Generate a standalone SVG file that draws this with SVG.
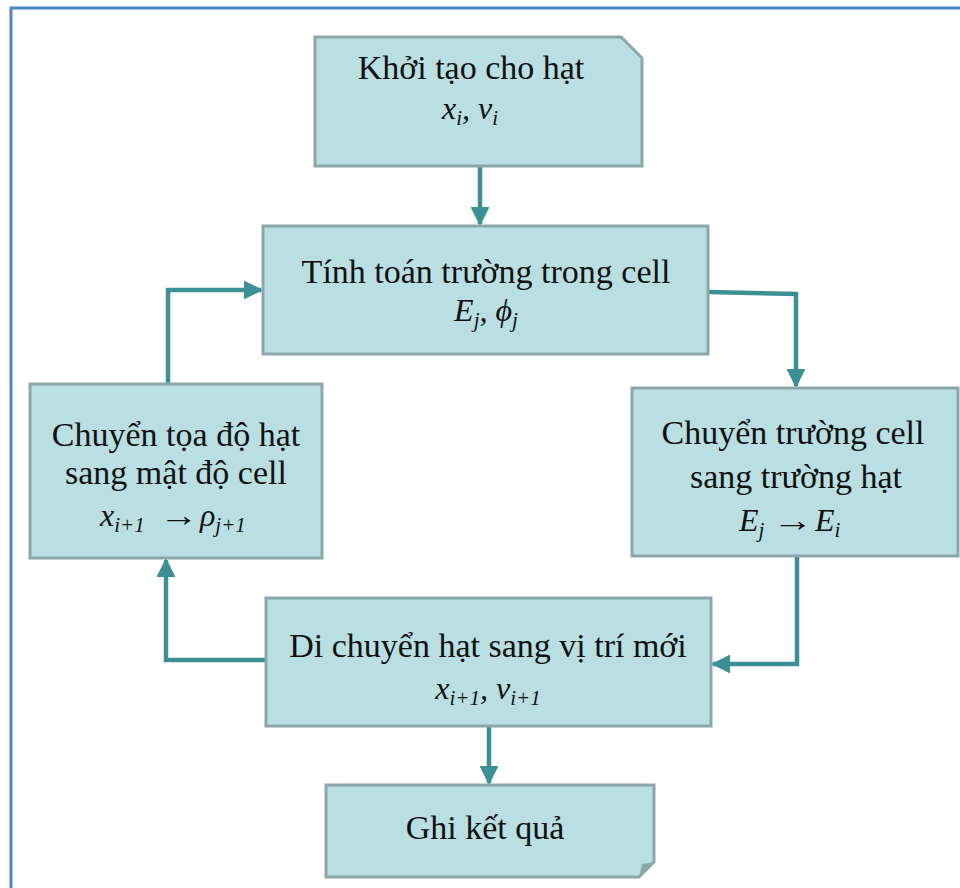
<svg xmlns="http://www.w3.org/2000/svg" width="960" height="888" viewBox="0 0 960 888">
<defs>
<style>
.box{fill:#B9DFE3;stroke:#8CA7AA;stroke-width:3}
.t{font-family:"Liberation Serif","Tinos","Times New Roman",serif;font-size:34px;fill:#111;text-anchor:middle}
.m{font-family:"Liberation Serif","Tinos","Times New Roman",serif;font-size:32px;font-style:italic;fill:#111;text-anchor:middle}
.ms{font-family:"Liberation Serif","Tinos","Times New Roman",serif;font-size:32px;font-style:italic;fill:#111}
.ar{font-family:"Liberation Serif","Tinos","Times New Roman",serif;font-size:32px;fill:#111}
.s{font-size:21px}
.c{fill:none;stroke:#3C8F94;stroke-width:4.5;marker-end:url(#ah)}
</style>
<marker id="ah" viewBox="0 0 10 10" refX="9" refY="5" markerWidth="4.2" markerHeight="4.2" orient="auto" markerUnits="strokeWidth">
<path d="M0,0 L10,5 L0,10 z" fill="#3C8F94"/>
</marker>
</defs>
<rect width="960" height="888" fill="#fff"/>
<path d="M11,888 V8 H960" fill="none" stroke="#4F86C6" stroke-width="3"/>
<g id="connectors">
<path class="c" d="M480,166 V224"/>
<path class="c" d="M168,384 V290 H261"/>
<path class="c" d="M708,292 L796,294 V386"/>
<path class="c" d="M797,556 V664 H713"/>
<path class="c" d="M266,660 H166 V560"/>
<path class="c" d="M489,726 V783"/>
</g>
<g id="n1">
<path class="box" d="M315,37 H621 L642,58 V166 H315 Z"/>
<text class="t" x="471" y="79">Khởi tạo cho hạt</text>
<text class="m" x="470" y="119">x<tspan class="s" dy="6">i</tspan><tspan dy="-6">, v</tspan><tspan class="s" dy="6">i</tspan></text>
</g>
<g id="n2">
<rect class="box" x="263" y="226" width="445" height="128"/>
<text class="t" x="486" y="283">Tính toán trường trong cell</text>
<text class="m" x="486" y="321">E<tspan class="s" dy="6">j</tspan><tspan dy="-6">,  ϕ</tspan><tspan class="s" dy="6">j</tspan></text>
</g>
<g id="n3">
<rect class="box" x="30" y="384" width="292" height="174"/>
<text class="t" x="176" y="446">Chuyển tọa độ hạt</text>
<text class="t" x="176" y="484">sang mật độ cell</text>
<text class="ms" x="100" y="526">x<tspan class="s" dy="6">i+1</tspan><tspan x="200" dy="-6">ρ</tspan><tspan class="s" dy="6">j+1</tspan></text>
<text class="ar" x="159" y="526" textLength="39" lengthAdjust="spacingAndGlyphs">→</text>
</g>
<g id="n4">
<rect class="box" x="632" y="388" width="326" height="168"/>
<text class="t" x="793" y="444">Chuyển trường cell</text>
<text class="t" x="796" y="488">sang trường  hạt</text>
<text class="ms" x="739" y="531">E<tspan class="s" dy="6">j</tspan><tspan x="815" dy="-6">E</tspan><tspan class="s" dy="6">i</tspan></text>
<text class="ar" x="772" y="531" textLength="41" lengthAdjust="spacingAndGlyphs">→</text>
</g>
<g id="n5">
<rect class="box" x="266" y="598" width="445" height="128"/>
<text class="t" x="488" y="657">Di chuyển hạt sang vị trí mới</text>
<text class="m" x="488" y="699">x<tspan class="s" dy="6">i+1</tspan><tspan dy="-6">, v</tspan><tspan class="s" dy="6">i+1</tspan></text>
</g>
<g id="n6">
<path class="box" d="M326,785 H654 V862 L639,877 H326 Z"/>
<path d="M639,877 L642,864 L654,862 Z" fill="#8CA7AA"/>
<text class="t" x="485" y="839">Ghi kết quả</text>
</g>
</svg>
